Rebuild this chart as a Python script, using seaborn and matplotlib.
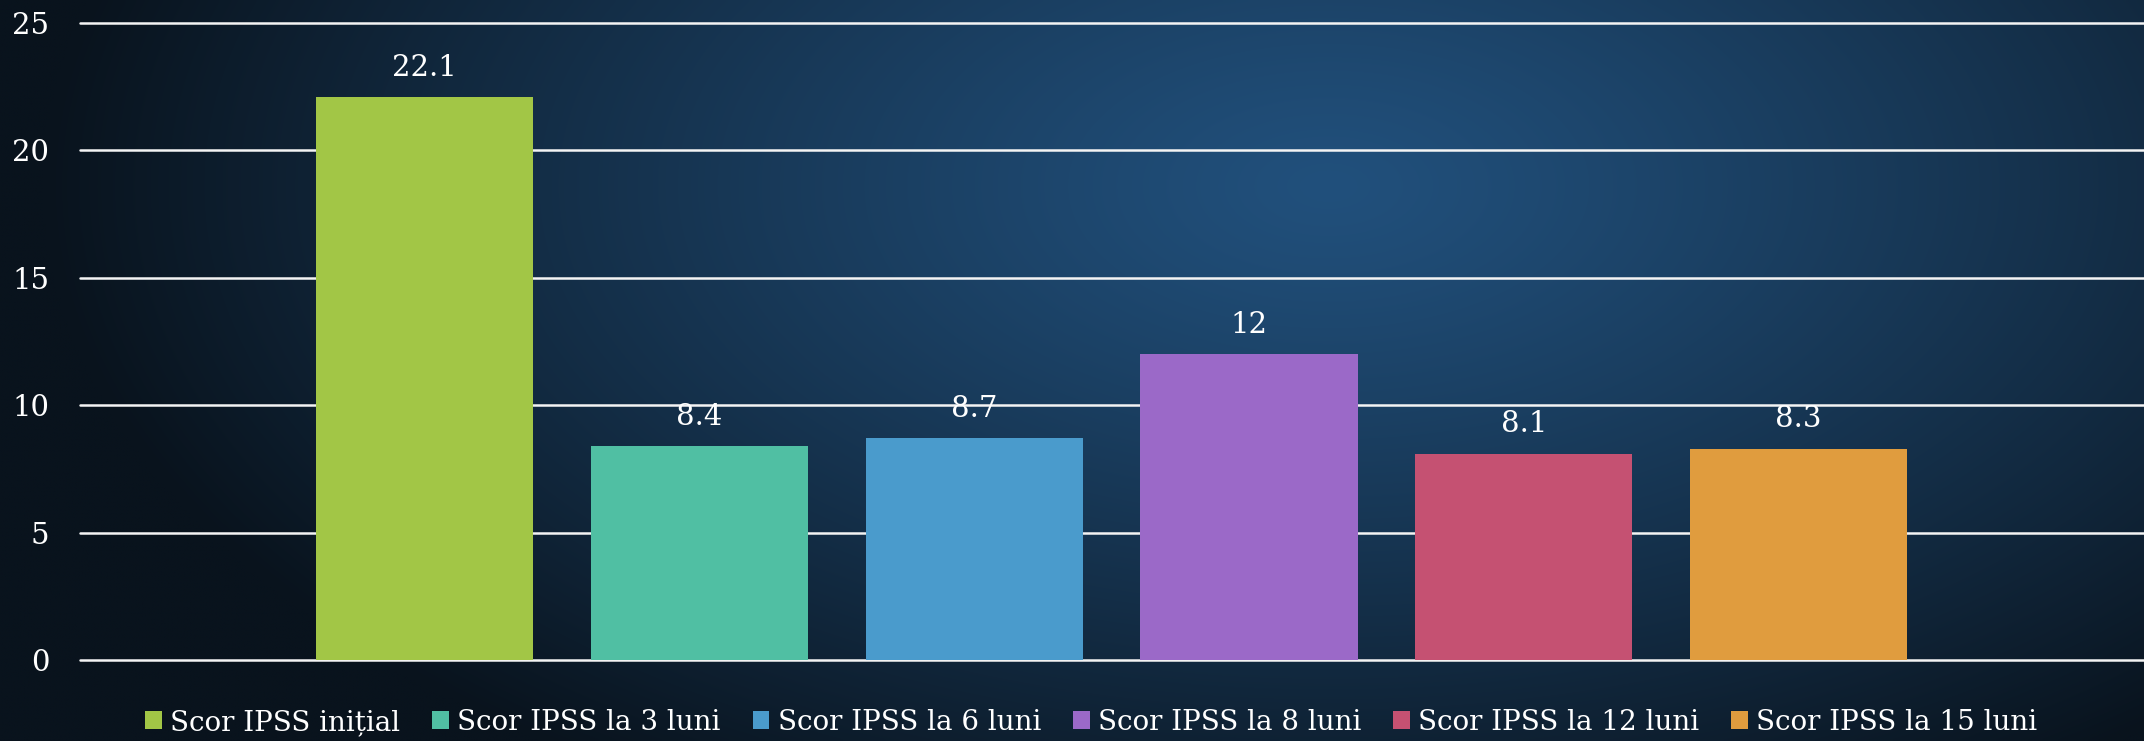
import numpy as np
import pandas as pd
import seaborn as sns
import matplotlib.pyplot as plt
from matplotlib.colors import to_rgb

# data
categories = ["Scor IPSS inițial", "Scor IPSS la 3 luni", "Scor IPSS la 6 luni",
              "Scor IPSS la 8 luni", "Scor IPSS la 12 luni", "Scor IPSS la 15 luni"]
scores = [22.1, 8.4, 8.7, 12, 8.1, 8.3]
value_labels = ["22.1", "8.4", "8.7", "12", "8.1", "8.3"]
yticks = [0, 5, 10, 15, 20, 25]
colors = ["#A2C646", "#50BFA3", "#4A9BCC", "#9B69C8", "#C55172", "#E09C3E"]

df = pd.DataFrame({"cat": categories, "score": scores})

sns.set_style("white")
plt.rcParams["font.family"] = ["DejaVu Serif"]

fig = plt.figure(figsize=(21.44, 7.41), dpi=100)

# dark blue gradient background
bg = fig.add_axes([0, 0, 1, 1], zorder=-10)
h, w = 200, 580
yy, xx = np.mgrid[0:1:h * 1j, 0:1:w * 1j]
d = np.sqrt(((xx - 0.62) / 0.6) ** 2 + ((yy - 0.25) / 0.95) ** 2)
d = np.clip(d, 0, 1) ** 1.2
c0 = np.array(to_rgb("#21507c"))
c1 = np.array(to_rgb("#09131d"))
img = c0[None, None, :] * (1 - d[..., None]) + c1[None, None, :] * d[..., None]
bg.imshow(img, aspect="auto", extent=[0, 1, 0, 1], interpolation="bilinear")
bg.axis("off")

ax = fig.add_axes([80 / 2144, 81 / 741, 1 - 80 / 2144, (660 - 23) / 741])
ax.set_facecolor("none")

sns.barplot(data=df, x="cat", y="score", hue="cat", palette=colors,
            width=0.79, saturation=1, linewidth=0, edgecolor="none",
            ax=ax, zorder=3, legend=True)

handles, labels = ax.get_legend_handles_labels()
if ax.get_legend() is not None:
    ax.get_legend().remove()
for hnd in handles:
    hnd.set_edgecolor("none")
    hnd.set_linewidth(0)

ax.set_ylim(0, 25)
ax.set_xlim(-1.254, 6.257)
ax.set_yticks(yticks)
ax.set_yticklabels([str(t) for t in yticks])
ax.set_xticks([])
ax.set_xlabel("")
ax.set_ylabel("")
ax.tick_params(axis="y", length=0, pad=22, labelsize=21, labelcolor="white")
for s in ax.spines.values():
    s.set_visible(False)
ax.grid(axis="y", color="#f4f4f4", linewidth=1.8, zorder=1)
ax.set_axisbelow(True)
for gl in ax.get_ygridlines():
    gl.set_clip_on(False)

for i, (v, t) in enumerate(zip(scores, value_labels)):
    ax.annotate(t, (i, v), xytext=(0, 21), textcoords="offset points",
                ha="center", va="center", fontsize=21, color="white")

fig.legend(handles, labels, loc="center", bbox_to_anchor=(0.509, 0.025),
           ncol=6, frameon=False, fontsize=20, labelcolor="white",
           handlelength=0.6, handleheight=0.6, handletextpad=0.3,
           columnspacing=1.15)

fig.savefig("out.png", dpi=100)
